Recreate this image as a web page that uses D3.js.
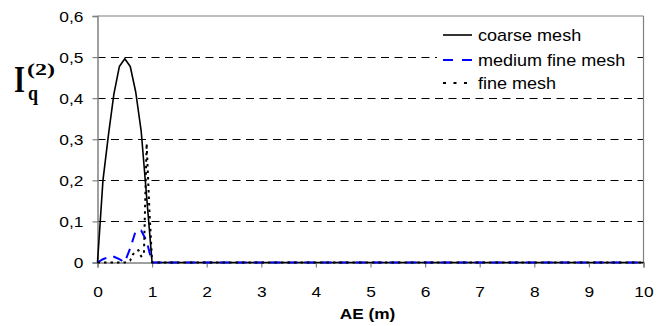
<!DOCTYPE html>
<html>
<head>
<meta charset="utf-8">
<script src="https://cdn.jsdelivr.net/npm/d3@7"></script>
<style>
  html, body { margin: 0; padding: 0; background: #fff; }
  svg { display: block; }
</style>
</head>
<body>
<svg id="chart" width="669" height="326"></svg>
<script>
// ---- data ----
const xTicks = [0, 1, 2, 3, 4, 5, 6, 7, 8, 9, 10];
const yTicks = [0, 0.1, 0.2, 0.3, 0.4, 0.5, 0.6];
const yTickLabels = ["0", "0,1", "0,2", "0,3", "0,4", "0,5", "0,6"];
const xTitle = "AE (m)";
const seriesNames = ["coarse mesh", "medium fine mesh", "fine mesh"];

const coarseX = [0, 0.1, 0.2, 0.3, 0.4, 0.5, 0.6, 0.7, 0.8, 0.9, 1, 2, 3, 4, 5, 6, 7, 8, 9, 10];
const coarseY = [0, 0.2, 0.31, 0.41, 0.477, 0.496, 0.477, 0.415, 0.32, 0.16, 0, 0, 0, 0, 0, 0, 0, 0, 0, 0];

const mediumX = [0, 0.1, 0.2, 0.3, 0.4, 0.5, 0.6, 0.7, 0.8, 0.9, 1, 2, 3, 4, 5, 6, 7, 8, 9, 10];
const mediumY = [0, 0.008, 0.013, 0.014, 0.008, 0.001, 0.035, 0.077, 0.078, 0.052, 0, 0, 0, 0, 0, 0, 0, 0, 0, 0];

const fineX = [0, 0.1, 0.2, 0.3, 0.4, 0.5, 0.6, 0.65, 0.7, 0.75, 0.8, 0.85, 0.9, 0.95, 1, 2, 3, 4, 5, 6, 7, 8, 9, 10];
const fineY = [0, 0, 0, 0, 0, 0, 0.005, 0.02, 0.026, 0.03, 0.015, 0.02, 0.29, 0.13, 0, 0, 0, 0, 0, 0, 0, 0, 0, 0];

// ---- layout ----
const svg = d3.select("#chart");
const mLeft = 97.5, mRight = 643.5, mTop = 16, mBottom = 262.5;
const x = d3.scaleLinear().domain([0, 10]).range([mLeft, mRight]);
const y = d3.scaleLinear().domain([0, 0.6]).range([mBottom, mTop]);
const gray = "#808080";
const fontSans = "Arial, 'Liberation Sans', sans-serif";
const fontSerif = "'Times New Roman', 'Liberation Serif', serif";

function stretch(sel, k) {
  sel.each(function () {
    const len = this.getComputedTextLength();
    d3.select(this).attr("textLength", len * k).attr("lengthAdjust", "spacingAndGlyphs");
  });
}

// gridlines (dashed)
svg.append("g").selectAll("line")
  .data(yTicks.filter(v => v > 0 && v < 0.6))
  .join("line")
  .attr("x1", mLeft).attr("x2", mRight)
  .attr("y1", d => Math.round(y(d)) + 0.5).attr("y2", d => Math.round(y(d)) + 0.5)
  .attr("stroke", "#000").attr("stroke-width", 1)
  .attr("stroke-dasharray", "8,5.5");

// plot border top & right
svg.append("line").attr("x1", mLeft).attr("x2", mRight).attr("y1", y(0.6)).attr("y2", y(0.6))
  .attr("stroke", gray).attr("stroke-width", 1.2);
svg.append("line").attr("x1", mRight).attr("x2", mRight).attr("y1", y(0.6)).attr("y2", y(0))
  .attr("stroke", gray).attr("stroke-width", 1.2);

// axes
const yAxis = d3.axisLeft(y).tickValues(yTicks).tickSize(5).tickPadding(9)
  .tickFormat((d, i) => yTickLabels[i]);
const gy = svg.append("g").attr("transform", `translate(${mLeft},0)`).call(yAxis);
const xAxis = d3.axisBottom(x).tickValues(xTicks).tickSize(5).tickPadding(14)
  .tickFormat(d => String(d));
const gx = svg.append("g").attr("transform", `translate(0,${mBottom})`).call(xAxis);

[gx, gy].forEach(g => {
  g.select(".domain").attr("stroke", gray).attr("stroke-width", 1.5);
  g.selectAll(".tick line").attr("stroke", gray).attr("stroke-width", 1.2);
  g.selectAll(".tick text").attr("fill", "#000").attr("font-family", fontSans).attr("font-size", 15.5);
});
gx.selectAll(".tick text").attr("dy", null).attr("y", 34.5);
gy.selectAll(".tick text").attr("dy", "0.35em");
stretch(gx.selectAll(".tick text"), 1.12);
stretch(gy.selectAll(".tick text"), 1.12);

// x axis title
const xt = svg.append("text").attr("x", (mLeft + mRight) / 2 - 3).attr("y", 319)
  .attr("text-anchor", "middle").attr("font-family", fontSans).attr("font-weight", "bold")
  .attr("font-size", 15).attr("fill", "#000").text(xTitle);
stretch(xt, 1.15);

// y axis label  I_q^(2)
svg.append("text").attr("x", 14).attr("y", 92).attr("font-family", fontSerif).attr("font-weight", "bold")
  .attr("font-size", 37).attr("textLength", 11).attr("lengthAdjust", "spacingAndGlyphs").text("I");
svg.append("text").attr("x", 27).attr("y", 75).attr("font-family", fontSerif).attr("font-weight", "bold")
  .attr("font-size", 17).attr("textLength", 28).attr("lengthAdjust", "spacingAndGlyphs").text("(2)");
svg.append("text").attr("x", 28).attr("y", 100).attr("font-family", fontSerif).attr("font-weight", "bold")
  .attr("font-size", 22).attr("textLength", 10).attr("lengthAdjust", "spacingAndGlyphs").text("q");

// series
const line = d3.line().x(d => x(d[0])).y(d => y(d[1]));
const series = [
  { name: seriesNames[0], pts: d3.zip(coarseX, coarseY), color: "#000", width: 1.6, dash: null },
  { name: seriesNames[1], pts: d3.zip(mediumX, mediumY), color: "#0000ff", width: 2, dash: "10,7" },
  { name: seriesNames[2], pts: d3.zip(fineX, fineY), color: "#000", width: 2, dash: "2.5,4" }
];
svg.append("g").selectAll("path").data(series).join("path")
  .attr("d", d => line(d.pts))
  .attr("fill", "none")
  .attr("stroke", d => d.color)
  .attr("stroke-width", d => d.width)
  .attr("stroke-dasharray", d => d.dash)
  .attr("stroke-linejoin", "round");

// legend (white background, no border)
const legY = [35, 60, 83];
const lg = svg.append("g");
lg.append("rect").attr("x", 437).attr("y", 23).attr("width", 199).attr("height", 72).attr("fill", "#fff");
series.forEach((s, i) => {
  lg.append("line").attr("x1", 443).attr("x2", 472).attr("y1", legY[i]).attr("y2", legY[i])
    .attr("stroke", s.color).attr("stroke-width", s.width)
    .attr("stroke-dasharray", i === 1 ? "10,9" : (i === 2 ? "3,7.5" : null));
  const t = lg.append("text").attr("x", 478).attr("y", legY[i]).attr("dy", "0.35em")
    .attr("font-family", fontSans).attr("font-size", 17).attr("fill", "#000").text(s.name);
  stretch(t, 1.06);
});
</script>
</body>
</html>
